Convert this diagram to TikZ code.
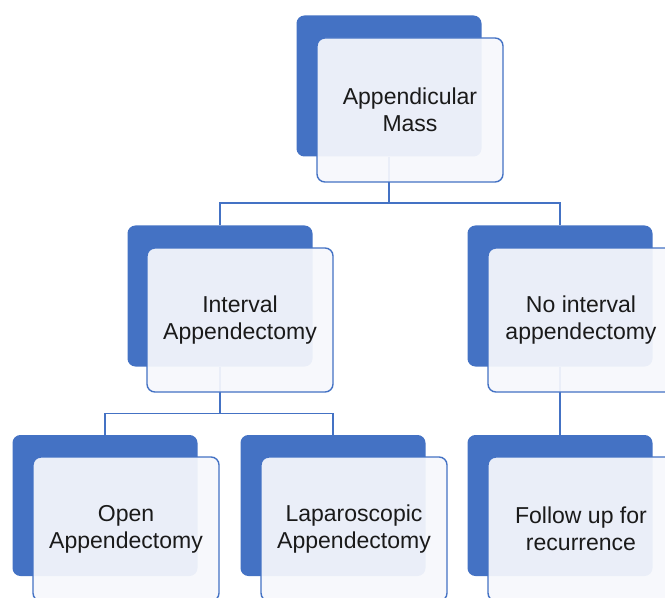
\documentclass[tikz,border=0pt]{standalone}
\usepackage{fontspec}
\setmainfont{Liberation Sans}
\usepackage{xcolor}
\usetikzlibrary{positioning,calc}
\definecolor{Canvas}{HTML}{FFFFFF}
\definecolor{Accent}{HTML}{4472C4}
\definecolor{Card}{HTML}{F7F8FC}
\definecolor{Ink}{HTML}{1A1A1A}

\begin{document}
\begin{tikzpicture}[back/.style={rectangle,rounded corners=4.5pt,fill=Accent,minimum width=3.7cm,minimum height=2.82cm,inner sep=0pt},card/.style={rectangle,rounded corners=4.5pt,draw=Accent,line width=0.8pt,fill=Card,fill opacity=0.93,text opacity=1,text=Ink,minimum width=3.72cm,minimum height=2.88cm,align=center,inner sep=0pt,font=\fontsize{13.1}{15.4}\selectfont},link/.style={draw=Accent,line width=0.8pt}]
\fill[Canvas] (0,0) rectangle (13.3,11.94);\useasboundingbox (0,0) rectangle (13.3,11.94);
\node[back] (massB) at (7.78,10.22) {};\node[back] (intB) at (4.4,6.02) {};\node[back] (noB) at (11.2,6.02) {};\node[back] (openB) at (2.1,1.83) {};\node[back] (lapB) at (6.66,1.83) {};\node[back] (folB) at (11.2,1.83) {};
\draw[link] (massB.south) -- ++(0,-0.92) coordinate (hubA) -| (intB.north);\draw[link] (hubA) -| (noB.north);\draw[link] (intB.south) -- ++(0,-0.93) coordinate (hubB) -| (openB.north);\draw[link] (hubB) -| (lapB.north);\draw[link] (noB.south) -- (folB.north);
\node[card] (mass) at (8.2,9.74) {Appendicular\\Mass};\node[card] (int) at (4.8,5.54) {Interval\\Appendectomy};\node[card] (no) at (11.62,5.54) {No interval\\appendectomy};
\node[card] (open) at (2.52,1.36) {Open\\Appendectomy};\node[card] (lap) at (7.08,1.36) {Laparoscopic\\Appendectomy};\node[card] (fol) at (11.62,1.36) {Follow up for\\recurrence};
\end{tikzpicture}
\end{document}
